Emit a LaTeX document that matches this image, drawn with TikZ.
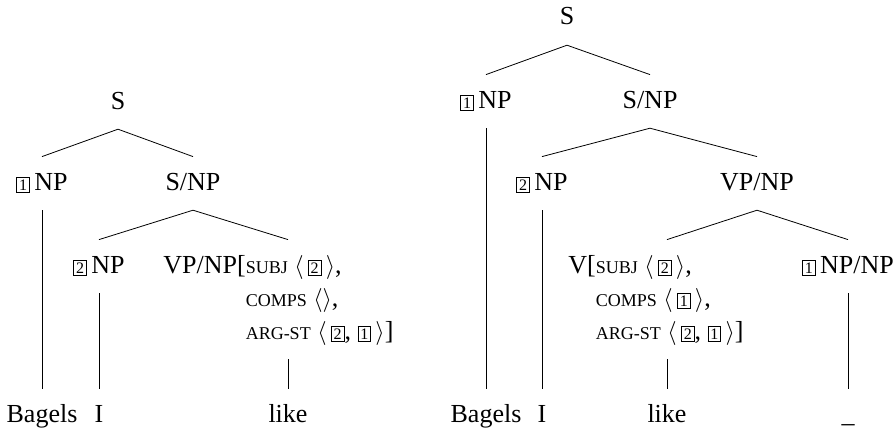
\documentclass[tikz,border=0pt]{standalone}
\usepackage{fontspec}
\setmainfont{Liberation Serif}
\usepackage{tikz}

\newcommand{\tg}[1]{{\setlength{\fboxsep}{1pt}\setlength{\fboxrule}{0.4pt}\fbox{\fontsize{8}{8}\selectfont #1}}}
\newcommand{\feat}[1]{{\fontsize{9}{9}\selectfont #1}}
\newcommand{\lan}{$\langle$}
\newcommand{\ran}{$\rangle$}

\begin{document}
\begin{tikzpicture}[x=0.5pt,y=-0.5pt]
\tikzstyle{tree} = [inner xsep=0pt, inner ysep=4.95pt, font=\fontsize{13}{16.5}\selectfont]
\tikzstyle{lab} = [tree, anchor=base, text height=11.55pt, text depth=4.95pt]
\tikzstyle{avm} = [tree, anchor=base west]
\useasboundingbox (0,0) rectangle (895,428);

% left tree
\node (s1) [lab] at (118,109) {S};
\node (np1) [lab] at (42,190) {\tg{1}\,NP};
\node (snp1) [lab] at (193,190) {S/NP};
\node (np2) [lab] at (99,273) {\tg{2}\,NP};
\node (vp1) [avm] at (163,273) {\begin{tabular}[t]{@{}l@{}l@{}}
  VP/NP[ & \feat{SUBJ} \lan\,\tg{2}\,\ran,\\
         & \feat{COMPS} \lan\ran,\\
         & \feat{ARG-ST} \lan\,\tg{2}, \tg{1}\,\ran]
  \end{tabular}};
\node (bagels1) [lab] at (42,422) {Bagels};
\node (i1) [lab] at (99,422) {I};
\node (like1) [lab] at (288,422) {like};

\draw (s1.south) -- (np1.north);
\draw (s1.south) -- (snp1.north);
\draw (snp1.south) -- (np2.north);
\draw (snp1.south) -- (vp1.north -| like1);
\draw (np1.south) -- (bagels1.north);
\draw (np2.south) -- (i1.north);
\draw (vp1.south -| like1) -- (like1.north);

% right tree
\node (s2) [lab] at (567,25) {S};
\node (np3) [lab] at (486,108) {\tg{1}\,NP};
\node (snp2) [lab] at (650,108) {S/NP};
\node (np4) [lab] at (542,190) {\tg{2}\,NP};
\node (vpnp2) [lab] at (757,190) {VP/NP};
\node (v2) [avm] at (568,273) {\begin{tabular}[t]{@{}l@{}l@{}}
  V[ & \feat{SUBJ} \lan\,\tg{2}\,\ran,\\
     & \feat{COMPS} \lan\,\tg{1}\,\ran,\\
     & \feat{ARG-ST} \lan\,\tg{2}, \tg{1}\,\ran]
  \end{tabular}};
\node (npnp) [lab] at (848,273) {\tg{1}\,NP/NP};
\node (bagels2) [lab] at (486,422) {Bagels};
\node (i2) [lab] at (542,422) {I};
\node (like2) [lab] at (667,422) {like};
\node (gap2) [lab] at (848,422) {\_};

\draw (s2.south) -- (np3.north);
\draw (s2.south) -- (snp2.north);
\draw (snp2.south) -- (np4.north);
\draw (snp2.south) -- (vpnp2.north);
\draw (vpnp2.south) -- (v2.north -| like2);
\draw (vpnp2.south) -- (npnp.north);
\draw (np3.south) -- (bagels2.north);
\draw (np4.south) -- (i2.north);
\draw (v2.south -| like2) -- (like2.north);
\draw (npnp.south) -- (gap2.north);
\end{tikzpicture}
\end{document}
